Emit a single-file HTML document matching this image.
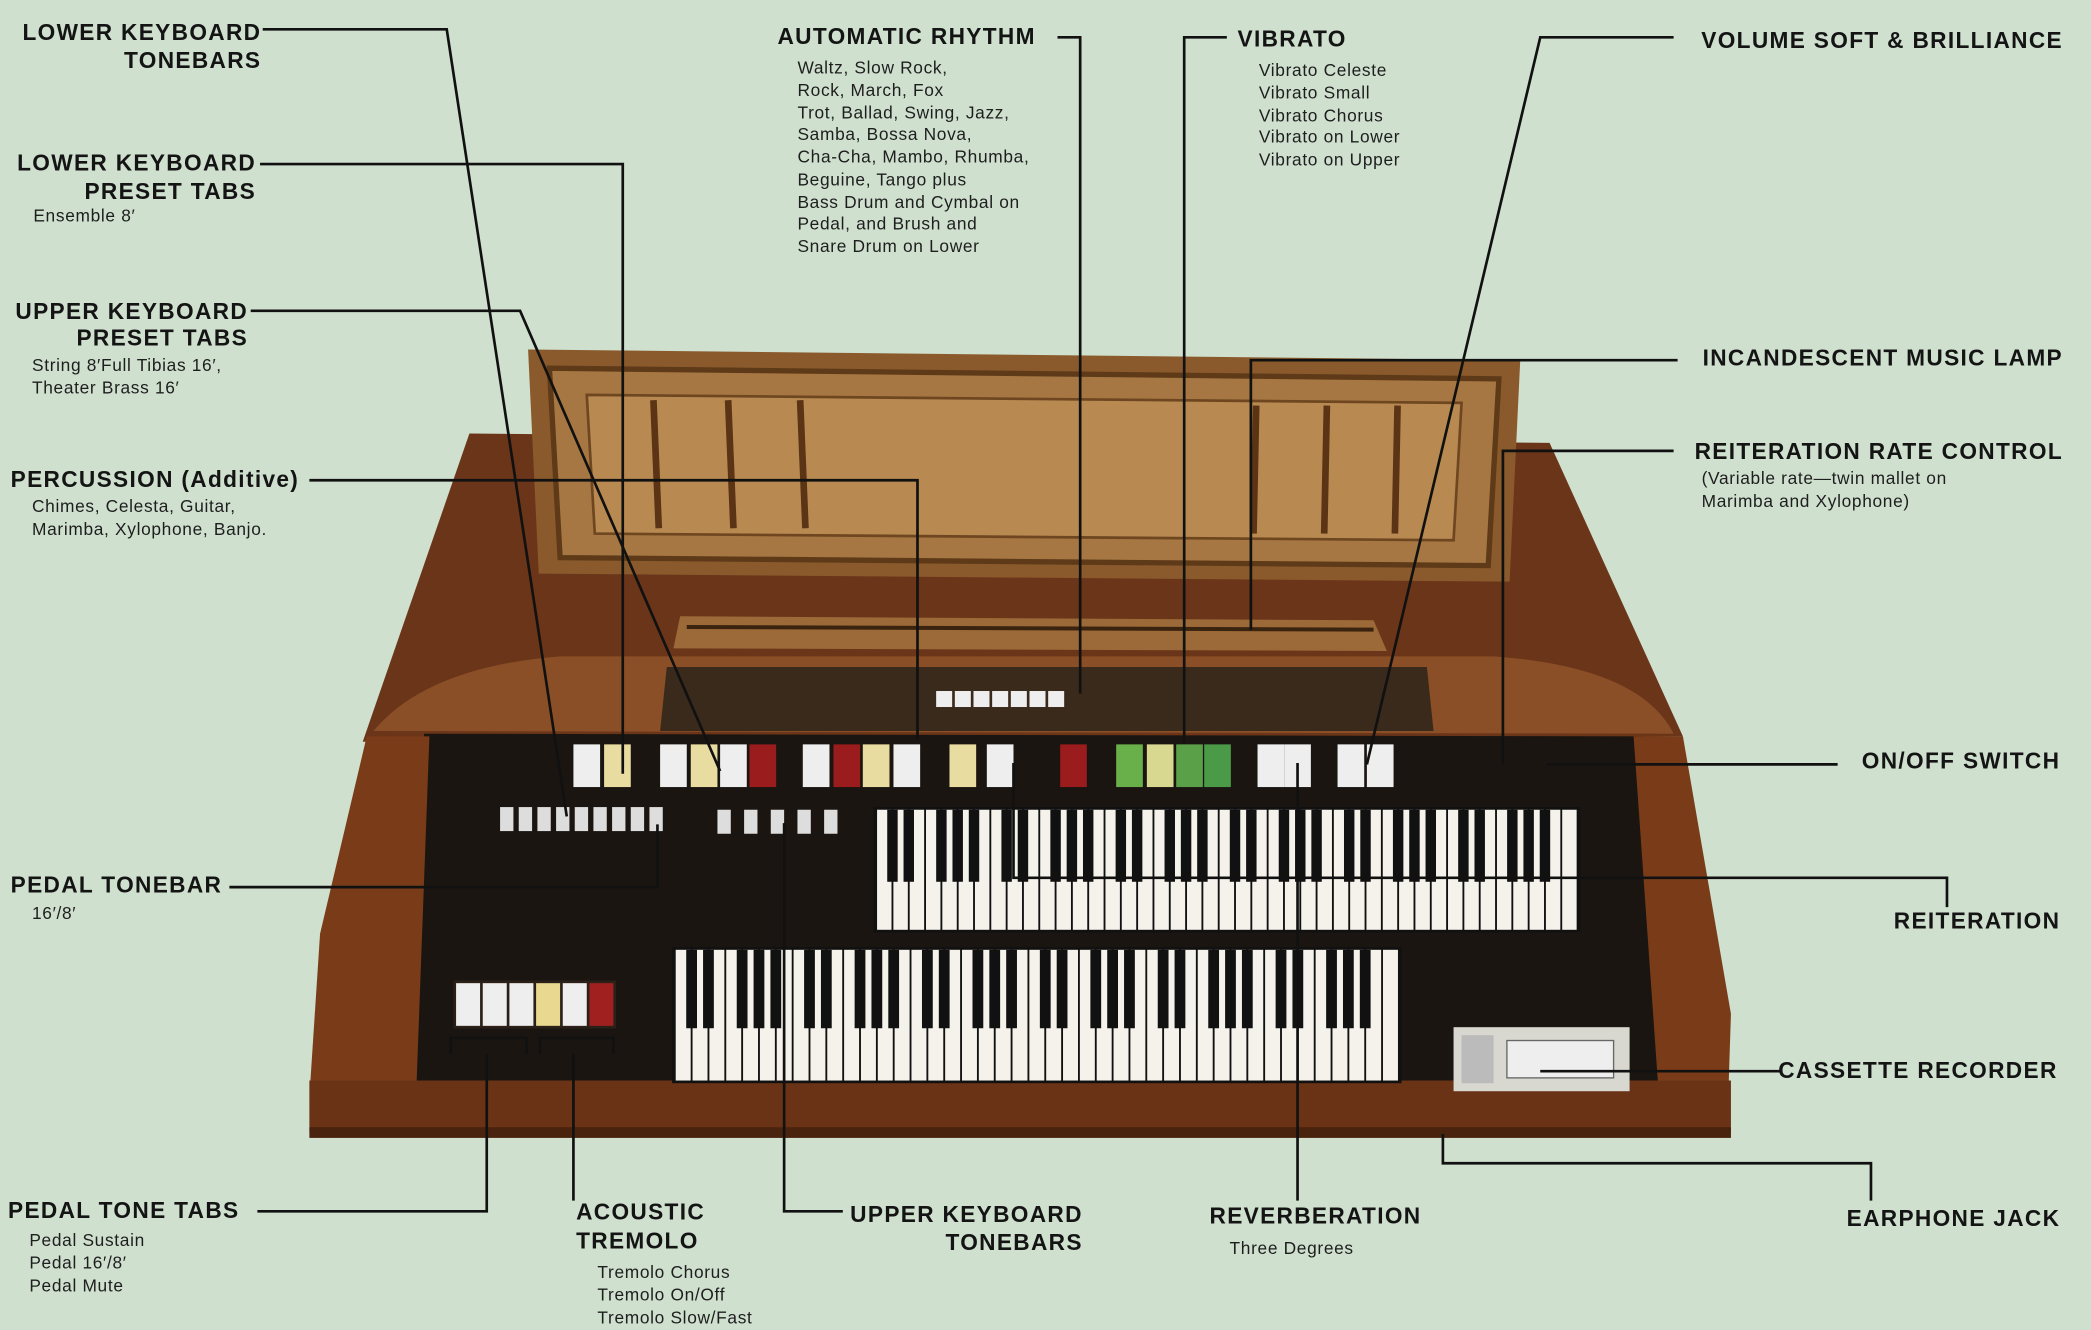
<!DOCTYPE html>
<html><head><meta charset="utf-8"><style>
html,body{margin:0;padding:0;background:#cfe0cf;}
svg{display:block}
.h{font-family:"Liberation Sans",sans-serif;font-weight:bold;font-size:17px;fill:#141414;letter-spacing:1px}
.s{font-family:"Liberation Sans",sans-serif;font-size:13px;fill:#1e1e1e;letter-spacing:0.5px}
.l{stroke:#111;stroke-width:2;fill:none}
</style></head><body>
<svg id="sv" width="2091" height="1330" viewBox="0 0 1568 997" preserveAspectRatio="none" xmlns="http://www.w3.org/2000/svg">
<rect width="1568" height="997" fill="#cfe0cf"/>
<!-- cabinet top -->
<polygon points="352,325 1162,332 1262,552 272,556" fill="#6b3519"/>
<!-- music rack -->
<polygon points="396,262 1140,270 1132,436 404,430" fill="#8a5a2c"/>
<polygon points="412,276 1124,284 1116,424 420,418" fill="#a67742" stroke="#5e3a18" stroke-width="4"/>
<polygon points="440,296 1096,302 1090,405 446,400" fill="#b88a52" stroke="#6e4620" stroke-width="2"/>
<g stroke="#5a3414" stroke-width="5">
<line x1="490" y1="300" x2="494" y2="396"/><line x1="546" y1="300" x2="550" y2="396"/><line x1="600" y1="300" x2="604" y2="396"/>
<line x1="942" y1="304" x2="940" y2="400"/><line x1="995" y1="304" x2="993" y2="400"/><line x1="1048" y1="304" x2="1046" y2="400"/>
</g>
<!-- ledge -->
<polygon points="510,462 1030,465 1040,488 505,486" fill="#9c6a38"/>
<line x1="515" y1="470" x2="1030" y2="472" stroke="#3a2410" stroke-width="3"/>
<!-- curved rail -->
<path d="M280,548 Q320,500 420,492 L1120,492 Q1230,500 1255,550 Z" fill="#8a4f26"/>
<polygon points="500,500 1070,500 1075,548 495,548" fill="#3a2a1c"/>
<!-- control/keyboard well -->
<polygon points="318,550 1232,552 1244,820 306,822" fill="#1b1511"/>
<!-- side panels -->
<polygon points="275,552 322,552 312,822 232,822 240,700" fill="#7a3c18"/>
<polygon points="1225,552 1262,552 1298,760 1296,822 1244,822" fill="#7a3c18"/>
<!-- front rail -->
<polygon points="232,810 1298,810 1298,848 232,848" fill="#6a3316"/>
<rect x="232" y="845" width="1066" height="8" fill="#4a230e"/>
<!-- tabs row -->
<g id="tabs"></g>
<!-- keyboards -->
<g id="kb"></g>
<!-- pedal tabs -->
<g>
<rect x="340" y="735" width="122" height="36" fill="#2a2018"/>
<rect x="342" y="737" width="18" height="32" fill="#eee"/><rect x="362" y="737" width="18" height="32" fill="#eee"/><rect x="382" y="737" width="18" height="32" fill="#eee"/>
<rect x="402" y="737" width="18" height="32" fill="#e8d890"/><rect x="422" y="737" width="18" height="32" fill="#eee"/><rect x="442" y="737" width="18" height="32" fill="#a02020"/>
</g>
<!-- cassette -->
<rect x="1090" y="770" width="132" height="48" fill="#d8d8d0"/>
<rect x="1096" y="776" width="24" height="36" fill="#bbb"/><rect x="1130" y="780" width="80" height="28" fill="#eee" stroke="#666"/>
<!-- lines -->
<g class="l">
<polyline points="197,22 335,22 425,612"/>
<polyline points="195,123 467,123 467,580"/>
<polyline points="188,233 390,233 540,578"/>
<polyline points="232,360 688,360 688,555"/>
<polyline points="172,665 493,665 493,618"/>
<polyline points="193,908 365,908 365,790"/>
<polyline points="430,900 430,790"/>
<polyline points="632,908 588,908 588,617"/>
<polyline points="793,28 810,28 810,520"/>
<polyline points="920,28 888,28 888,557"/>
<polyline points="1255,28 1155,28 1025,573"/>
<polyline points="1258,270 938,270 938,472"/>
<polyline points="1255,338 1127,338 1127,573"/>
<polyline points="1378,573 1160,573"/>
<polyline points="1460,680 1460,658 760,658 760,572"/>
<polyline points="973,900 973,572"/>
<polyline points="1335,803 1155,803"/>
<polyline points="1403,900 1403,872 1082,872 1082,850"/>
<polyline points="338,790 338,778 395,778 395,790"/>
<polyline points="405,790 405,778 460,778 460,790"/>
</g>
<!-- labels -->
<text class="h" x="196" y="30" text-anchor="end">LOWER KEYBOARD</text>
<text class="h" x="196" y="51" text-anchor="end">TONEBARS</text>
<text class="h" x="192" y="128" text-anchor="end">LOWER KEYBOARD</text>
<text class="h" x="192" y="149" text-anchor="end">PRESET TABS</text>
<text class="s" x="25" y="166">Ensemble 8′</text>
<text class="h" x="186" y="239" text-anchor="end">UPPER KEYBOARD</text>
<text class="h" x="186" y="259" text-anchor="end">PRESET TABS</text>
<text class="s" x="24" y="278">String 8′Full Tibias 16′,</text>
<text class="s" x="24" y="295">Theater Brass 16′</text>
<text class="h" x="8" y="365">PERCUSSION (Additive)</text>
<text class="s" x="24" y="384">Chimes, Celesta, Guitar,</text>
<text class="s" x="24" y="401">Marimba, Xylophone, Banjo.</text>
<text class="h" x="8" y="669">PEDAL TONEBAR</text>
<text class="s" x="24" y="689">16′/8′</text>
<text class="h" x="6" y="913">PEDAL TONE TABS</text>
<text class="s" x="22" y="934">Pedal Sustain</text>
<text class="s" x="22" y="951">Pedal 16′/8′</text>
<text class="s" x="22" y="968">Pedal Mute</text>
<text class="h" x="432" y="914">ACOUSTIC</text>
<text class="h" x="432" y="936">TREMOLO</text>
<text class="s" x="448" y="958">Tremolo Chorus</text>
<text class="s" x="448" y="975">Tremolo On/Off</text>
<text class="s" x="448" y="992">Tremolo Slow/Fast</text>
<text class="h" x="812" y="916" text-anchor="end">UPPER KEYBOARD</text>
<text class="h" x="812" y="937" text-anchor="end">TONEBARS</text>
<text class="h" x="583" y="33">AUTOMATIC RHYTHM</text>
<text class="s" x="598" y="55">Waltz, Slow Rock,</text>
<text class="s" x="598" y="72">Rock, March, Fox</text>
<text class="s" x="598" y="89">Trot, Ballad, Swing, Jazz,</text>
<text class="s" x="598" y="105">Samba, Bossa Nova,</text>
<text class="s" x="598" y="122">Cha-Cha, Mambo, Rhumba,</text>
<text class="s" x="598" y="139">Beguine, Tango plus</text>
<text class="s" x="598" y="156">Bass Drum and Cymbal on</text>
<text class="s" x="598" y="172">Pedal, and Brush and</text>
<text class="s" x="598" y="189">Snare Drum on Lower</text>
<text class="h" x="928" y="35">VIBRATO</text>
<text class="s" x="944" y="57">Vibrato Celeste</text>
<text class="s" x="944" y="74">Vibrato Small</text>
<text class="s" x="944" y="91">Vibrato Chorus</text>
<text class="s" x="944" y="107">Vibrato on Lower</text>
<text class="s" x="944" y="124">Vibrato on Upper</text>
<text class="h" x="1547" y="36" text-anchor="end">VOLUME SOFT &amp; BRILLIANCE</text>
<text class="h" x="1547" y="274" text-anchor="end">INCANDESCENT MUSIC LAMP</text>
<text class="h" x="1547" y="344" text-anchor="end">REITERATION RATE CONTROL</text>
<text class="s" x="1276" y="363">(Variable rate—twin mallet on</text>
<text class="s" x="1276" y="380">Marimba and Xylophone)</text>
<text class="h" x="1545" y="576" text-anchor="end">ON/OFF SWITCH</text>
<text class="h" x="1545" y="696" text-anchor="end">REITERATION</text>
<text class="h" x="1543" y="808" text-anchor="end">CASSETTE RECORDER</text>
<text class="h" x="1545" y="919" text-anchor="end">EARPHONE JACK</text>
<text class="h" x="907" y="917">REVERBERATION</text>
<text class="s" x="922" y="940">Three Degrees</text>
</svg>
<script>
var NS="http://www.w3.org/2000/svg";
function r(g,x,y,w,h,f){var e=document.createElementNS(NS,"rect");e.setAttribute("x",x);e.setAttribute("y",y);e.setAttribute("width",w);e.setAttribute("height",h);e.setAttribute("fill",f);g.appendChild(e);}
var kb=document.getElementById("kb");
function board(x0,x1,y,h,n){var w=(x1-x0)/n;r(kb,x0-2,y-2,x1-x0+4,h+4,"#111");
for(var i=0;i<n;i++)r(kb,x0+i*w+0.7,y,w-1.4,h,"#f4f2ea");
var pat=[1,1,0,1,1,1,0];
for(var i=0;i<n-1;i++){if(pat[i%7])r(kb,x0+(i+1)*w-w*0.32,y,w*0.64,h*0.6,"#111");}}
board(657,1183,607,90,43);board(506,1049,712,98,43);
var tg=document.getElementById("tabs");
var cols=["#eee","#e8dca0","#eee","#e8dca0","#eee","#9a1c1c","#eee","#9a1c1c","#e8dca0","#eee","#e8dca0","#eee","#9a1c1c","#6ab04a","#d8d890","#5aa048","#4a9a48","#eee","#eee","#eee","#eee"];
var xs=[430,453,495,518,540,562,602,625,647,670,712,740,795,837,860,882,903,943,963,1003,1025];
for(var i=0;i<cols.length;i++)r(tg,xs[i],558,20,32,cols[i]);
for(var i=0;i<9;i++)r(tg,375+i*14,605,10,18,"#ddd");
for(var i=0;i<5;i++)r(tg,538+i*20,607,10,18,"#ddd");
for(var i=0;i<7;i++)r(tg,702+i*14,518,12,12,"#eee");
</script>
</body></html>
